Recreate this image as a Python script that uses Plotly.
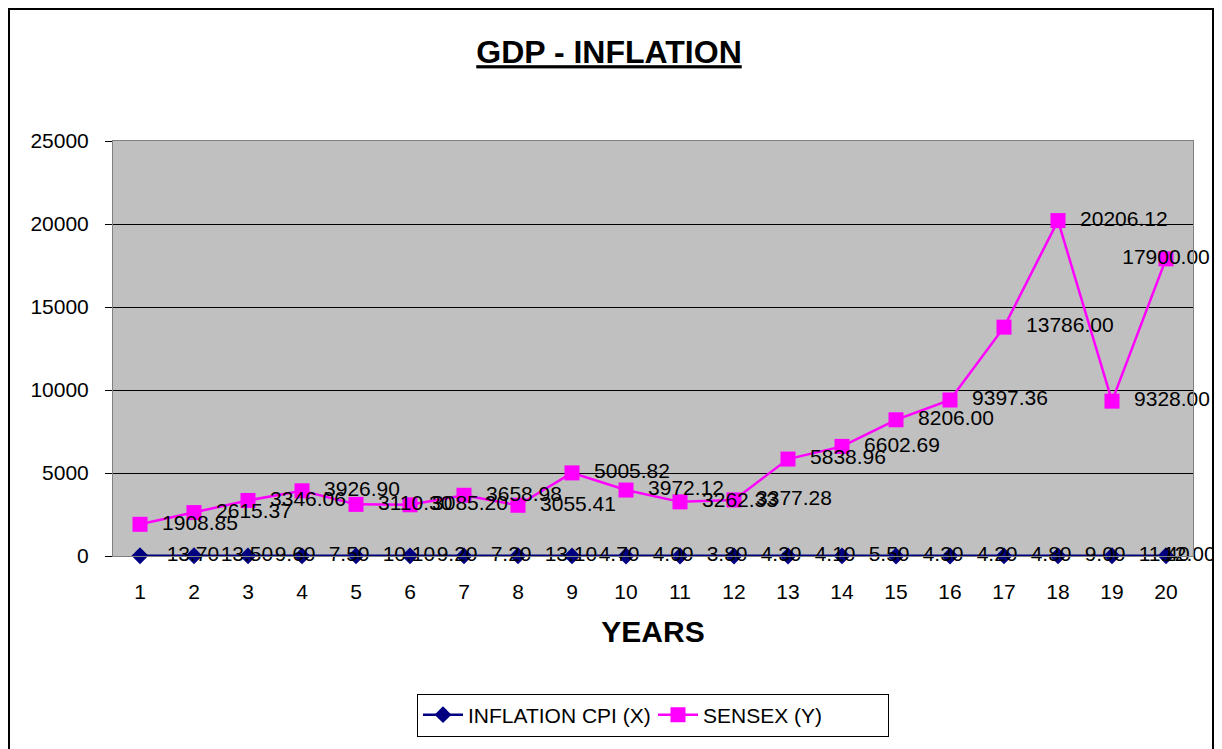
import plotly.graph_objects as go

years = list(range(1, 21))
inflation_cpi = [13.70, 13.50, 9.60, 7.50, 10.10, 9.20, 7.20, 13.10, 4.70, 4.00,
                 3.80, 4.30, 4.10, 5.50, 4.30, 4.20, 4.80, 9.00, 11.40, 12.00]
sensex = [1908.85, 2615.37, 3346.06, 3926.90, 3110.30, 3085.20, 3658.98, 3055.41, 5005.82, 3972.12,
          3262.33, 3377.28, 5838.96, 6602.69, 8206.00, 9397.36, 13786.00, 20206.12, 9328.00, 17900.00]

FONT = "Liberation Sans, Arial, sans-serif"
NB = "\u00a0"

# figure geometry (page body has an 8px margin)
W, H = 1214, 741
ML, MR, MT, MB = 105, 29, 133, 193
PW, PH = W - ML - MR, H - MT - MB
def px(x):
    return (x - ML) / PW
def py(y):
    return (H - MB - y) / PH

inf_text = [NB * 3 + f"{v:.2f}" for v in inflation_cpi]
inf_text[-1] = NB * 8 + f"{inflation_cpi[-1]:.2f}"
inf_pos = ["middle right"] * len(years)
inf_pos[-1] = "middle center"

sen_text = [NB * 2 + f"{v:.2f}" for v in sensex]
sen_text[-1] = f"{sensex[-1]:.2f}"
sen_pos = ["middle right"] * len(years)
sen_pos[-1] = "middle center"

fig = go.Figure()
fig.add_trace(go.Scatter(
    x=years, y=inflation_cpi, name="INFLATION CPI (X)",
    mode="lines+markers+text",
    line=dict(color="#000080", width=2.5),
    marker=dict(symbol="diamond", size=13, color="#000080"),
    text=inf_text, textposition=inf_pos,
    textfont=dict(family=FONT, size=21, color="black"),
    cliponaxis=False,
))
fig.add_trace(go.Scatter(
    x=years, y=sensex, name="SENSEX (Y)",
    mode="lines+markers+text",
    line=dict(color="#FF00FF", width=2.5),
    marker=dict(symbol="square", size=15, color="#FF00FF"),
    text=sen_text, textposition=sen_pos,
    textfont=dict(family=FONT, size=21, color="black"),
    cliponaxis=False,
))

# outer chart border
fig.add_shape(type="rect", xref="paper", yref="paper",
              x0=px(1), x1=px(1205), y0=py(760), y1=py(1),
              line=dict(color="black", width=2), fillcolor="rgba(0,0,0,0)", layer="below")

fig.update_layout(
    width=W, height=H,
    margin=dict(l=ML, r=MR, t=MT, b=MB),
    paper_bgcolor="white", plot_bgcolor="#C0C0C0",
    font=dict(family=FONT, color="black"),
    title=dict(text="<b><u>GDP - INFLATION</u></b>", x=601 / W, xanchor="center",
               y=1 - 44 / H, yanchor="middle", yref="container",
               font=dict(family=FONT, size=32, color="black")),
    showlegend=True,
    legend=dict(orientation="h", x=0.5, xanchor="center", y=py(707), yanchor="middle",
                bordercolor="black", borderwidth=1, bgcolor="white",
                entrywidth=180, itemwidth=40,
                font=dict(family=FONT, size=21, color="black")),
    xaxis=dict(range=[0.5, 20.5], tickmode="array", tickvals=years, ticktext=[str(y) for y in years],
               showgrid=False, zeroline=False, showline=True, linecolor="#808080", linewidth=1, mirror=True,
               ticks="", ticklabelstandoff=17, tickfont=dict(family=FONT, size=21, color="black"),
               title=dict(text="<b>YEARS</b>", font=dict(family=FONT, size=30, color="black"), standoff=18)),
    yaxis=dict(range=[0, 25000], dtick=5000, tickformat="d", showgrid=True, gridcolor="black", gridwidth=1,
               zeroline=True, zerolinecolor="black", zerolinewidth=1,
               showline=True, linecolor="#808080", linewidth=1, mirror=True,
               ticks="outside", ticklen=7, tickcolor="black", ticklabelstandoff=12,
               tickfont=dict(family=FONT, size=21, color="black")),
)

fig.write_html("out.html")
